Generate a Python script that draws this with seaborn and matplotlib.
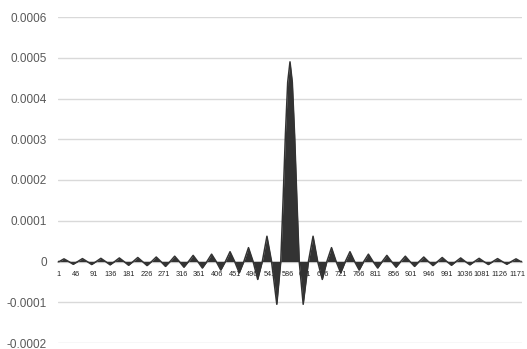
import numpy as np
import pandas as pd
import matplotlib
matplotlib.use("Agg")
import matplotlib.pyplot as plt
import seaborn as sns

# ---- data ----
n_samples = 1183            # category count on the x axis
center_sample = 592         # sample of the main peak
half_period = 23.5          # samples between zero crossings
main_peak = 0.00049
# main lobe shoulders: (offset in half periods, value)
main_shoulders = [(0.25, 0.00044), (0.5, 0.00031), (0.75, 0.00015)]
# lobe extremes from the far left up to just left of the main lobe
left_lobes = [-0.0000062, 0.0000065, -0.0000068, 0.0000071, -0.0000074,
              0.0000078, -0.0000082, 0.0000087, -0.0000092, 0.0000098,
              -0.0000100, 0.0000110, -0.0000120, 0.0000130, -0.0000140,
              0.0000150, -0.0000160, 0.0000180, -0.0000210, 0.0000240,
              -0.0000280, 0.0000340, -0.0000440, 0.0000620, -0.0001050]
# lobe extremes from just right of the main lobe to the far right
right_lobes = [-0.0001050, 0.0000620, -0.0000440, 0.0000340, -0.0000280,
               0.0000240, -0.0000210, 0.0000180, -0.0000160, 0.0000150,
               -0.0000140, 0.0000130, -0.0000120, 0.0000110, -0.0000100,
               0.0000098, -0.0000092, 0.0000087, -0.0000082, 0.0000078,
               -0.0000074, 0.0000071, -0.0000068, 0.0000065, -0.0000062]
tick_positions = list(range(1, 1172, 45))
tick_labels = [str(v) for v in tick_positions]
y_ticks = [-0.0002, -0.0001, 0, 0.0001, 0.0002, 0.0003, 0.0004, 0.0005, 0.0006]
y_tick_labels = ["-0.0002", "-0.0001", "0", "0.0001", "0.0002", "0.0003",
                 "0.0004", "0.0005", "0.0006"]

# build series: zero crossings between lobe extremes
xs, ys = [center_sample], [main_peak]
for side, lobes in ((-1, left_lobes[::-1]), (1, right_lobes)):
    for off, v in main_shoulders:
        xs.append(center_sample + side * off * half_period); ys.append(v)
    for k, v in enumerate(lobes, start=1):
        xs.append(center_sample + side * k * half_period); ys.append(0.0)
        off = 1.43 if k == 1 else k + 0.5
        xs.append(center_sample + side * off * half_period); ys.append(v)
xs += [1, n_samples]
ys += [0.0, 0.0]
df = pd.DataFrame({"sample": xs, "value": ys}).sort_values("sample")

sns.set_theme(style="white")
plt.rcParams['font.family'] = ['Liberation Sans', 'DejaVu Sans']
fig = plt.figure(figsize=(5.27, 3.49), dpi=100)
ax = fig.add_axes([58/527, 6/349, 464/527, 326/349])

ax.fill_between(df["sample"], df["value"], 0, color="#333333", linewidth=0, zorder=3)
sns.lineplot(data=df, x="sample", y="value", ax=ax, color="#333333",
             linewidth=1.1, zorder=4, sort=True)

ax.set_xlim(1, n_samples)
ax.set_ylim(-0.0002, 0.0006)
ax.set_yticks(y_ticks)
ax.set_yticklabels(y_tick_labels, color="#595959")
ax.set_xticks(tick_positions)
ax.set_xticklabels(tick_labels, color="#404040")
ax.yaxis.grid(True, color="#d9d9d9", linewidth=1.0, zorder=0)
ax.xaxis.grid(False)
for s in ["top", "right", "left"]:
    ax.spines[s].set_visible(False)
ax.spines["bottom"].set_position(("data", 0))
ax.spines["bottom"].set_color("#bfbfbf")
ax.tick_params(axis="x", length=0, pad=7, labelsize=5.3)
ax.tick_params(axis="y", length=0, pad=8, labelsize=8.5)
ax.set_xlabel("")
ax.set_ylabel("")

fig.savefig("out.png", dpi=100)
